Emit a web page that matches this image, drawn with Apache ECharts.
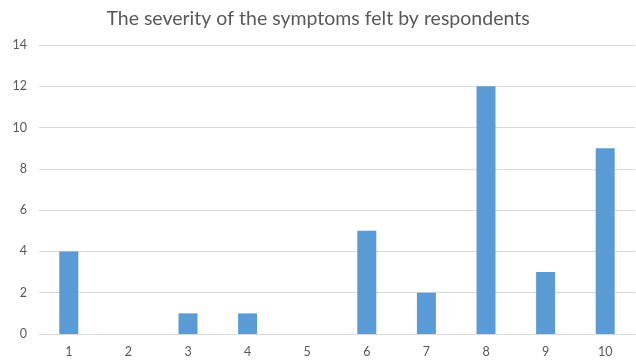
<!DOCTYPE html>
<html>
<head>
<meta charset="utf-8">
<script src="https://cdn.jsdelivr.net/npm/echarts@6/dist/echarts.min.js"></script>
<style>
  html, body { margin: 0; padding: 0; background: #fff; }
  #chart { width: 636px; height: 364px; }
</style>
</head>
<body>
<div id="chart"></div>
<script>
// Severity score (1-10) and the number of respondents who gave it
const severityLevels = ['1', '2', '3', '4', '5', '6', '7', '8', '9', '10'];
const respondentCounts = [4, 0, 1, 1, 0, 5, 2, 12, 3, 9];
const yTicks = { min: 0, max: 14, interval: 2 };

const textColor = '#595959';
const fontFamily = 'Lato, "Open Sans", "Liberation Sans", sans-serif';

const chart = echarts.init(document.getElementById('chart'), null, { renderer: 'canvas' });
chart.setOption({
  animation: false,
  backgroundColor: '#ffffff',
  title: {
    text: 'The severity of the symptoms felt by respondents',
    left: 'center',
    top: 4,
    textStyle: { color: textColor, fontSize: 19.5, fontWeight: 'normal', fontFamily: fontFamily }
  },
  grid: { left: 39, right: 1, top: 45, bottom: 30 },
  xAxis: {
    type: 'category',
    data: severityLevels,
    axisLine: { show: true, lineStyle: { color: '#d9d9d9', width: 1 } },
    axisTick: { show: false },
    axisLabel: { color: textColor, fontSize: 12.5, fontFamily: fontFamily, margin: 11 }
  },
  yAxis: {
    type: 'value',
    min: yTicks.min,
    max: yTicks.max,
    interval: yTicks.interval,
    axisLine: { show: false },
    axisTick: { show: false },
    splitLine: { lineStyle: { color: '#d9d9d9', width: 1 } },
    axisLabel: { color: textColor, fontSize: 12.5, fontFamily: fontFamily, margin: 12 }
  },
  series: [{
    type: 'bar',
    data: respondentCounts,
    barWidth: 19,
    itemStyle: { color: '#5b9bd5' }
  }]
});
</script>
</body>
</html>
